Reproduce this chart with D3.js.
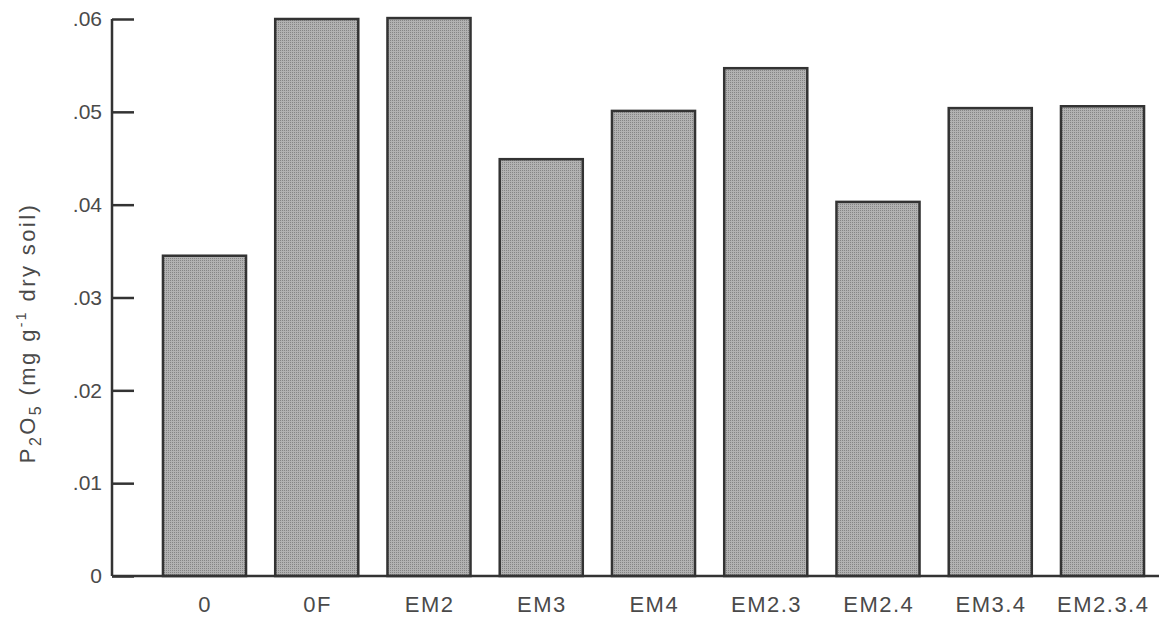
<!DOCTYPE html>
<html>
<head>
<meta charset="utf-8">
<script src="https://cdn.jsdelivr.net/npm/d3@7"></script>
<style>
  html, body { margin: 0; padding: 0; background: #fff; }
  svg { display: block; font-family: "Liberation Sans", Arial, Helvetica, sans-serif; }
</style>
</head>
<body>
<svg id="chart" width="1159" height="619"></svg>
<script>
const categories = ["0", "0F", "EM2", "EM3", "EM4", "EM2.3", "EM2.4", "EM3.4", "EM2.3.4"];
const values = [0.0345, 0.0600, 0.0601, 0.0449, 0.0501, 0.0547, 0.0403, 0.0504, 0.0506];
const yTicks = [0, 0.01, 0.02, 0.03, 0.04, 0.05, 0.06];

const svg = d3.select("#chart");
const W = 1159, H = 619;
const mLeft = 112, mBottom = 576, mTop = 19;

const x = d3.scaleBand()
  .domain(categories)
  .range([mLeft, 1195])
  .paddingInner(0.26)
  .paddingOuter(0.454);

const y = d3.scaleLinear().domain([0, 0.06]).range([mBottom, mTop]);

// dotted texture pattern
const defs = svg.append("defs");
const pat = defs.append("pattern")
  .attr("id", "dots").attr("patternUnits", "userSpaceOnUse")
  .attr("width", 2).attr("height", 2);
pat.append("rect").attr("width", 2).attr("height", 2).attr("fill", "#b2b2b2");
pat.append("rect").attr("width", 1).attr("height", 1).attr("fill", "#858585");

// bars
svg.append("g").selectAll("rect")
  .data(categories.map((c, i) => ({c, v: values[i]})))
  .join("rect")
  .attr("x", d => x(d.c))
  .attr("y", d => y(d.v))
  .attr("width", x.bandwidth())
  .attr("height", d => y(0) - y(d.v))
  .attr("fill", "url(#dots)")
  .attr("stroke", "#333")
  .attr("stroke-width", 2.5);

// y axis
const fmt = d => d === 0 ? "0" : d3.format(".2f")(d).replace(/^0/, "");
const yAxis = svg.append("g")
  .attr("transform", `translate(${mLeft},0)`)
  .call(d3.axisLeft(y).tickValues(yTicks).tickFormat(fmt).tickSize(-22).tickPadding(10));
yAxis.select(".domain").attr("stroke", "#333").attr("stroke-width", 2.5)
  .attr("d", `M0,${mTop}V${mBottom}`);
yAxis.selectAll(".tick line").attr("stroke", "#333").attr("stroke-width", 2.5);
yAxis.selectAll(".tick text").attr("font-size", 21).attr("fill", "#4a4a4a")
  .attr("font-family", "Liberation Sans, Arial, sans-serif");

// x axis
const xAxis = svg.append("g")
  .attr("transform", `translate(0,${mBottom})`)
  .call(d3.axisBottom(x).tickSize(0).tickPadding(20));
xAxis.select(".domain").attr("stroke", "#333").attr("stroke-width", 2.5)
  .attr("d", `M${mLeft},0H${W}`);
xAxis.selectAll(".tick text").attr("font-size", 22).attr("fill", "#4a4a4a")
  .attr("letter-spacing", 1.5).attr("dx", 0.75)
  .attr("font-family", "Liberation Sans, Arial, sans-serif");

// y axis title
const title = svg.append("text")
  .attr("transform", `translate(35,333) rotate(-90)`)
  .attr("text-anchor", "middle")
  .attr("font-size", 22)
  .attr("letter-spacing", 2.4)
  .attr("fill", "#4a4a4a");
title.append("tspan").text("P");
title.append("tspan").attr("font-size", 16).attr("dy", 6).text("2");
title.append("tspan").attr("dy", -6).text("O");
title.append("tspan").attr("font-size", 16).attr("dy", 6).text("5");
title.append("tspan").attr("dy", -6).text(" (mg g");
title.append("tspan").attr("font-size", 14).attr("dy", -9).text("-1");
title.append("tspan").attr("dy", 9).text(" dry soil)");
</script>
</body>
</html>
